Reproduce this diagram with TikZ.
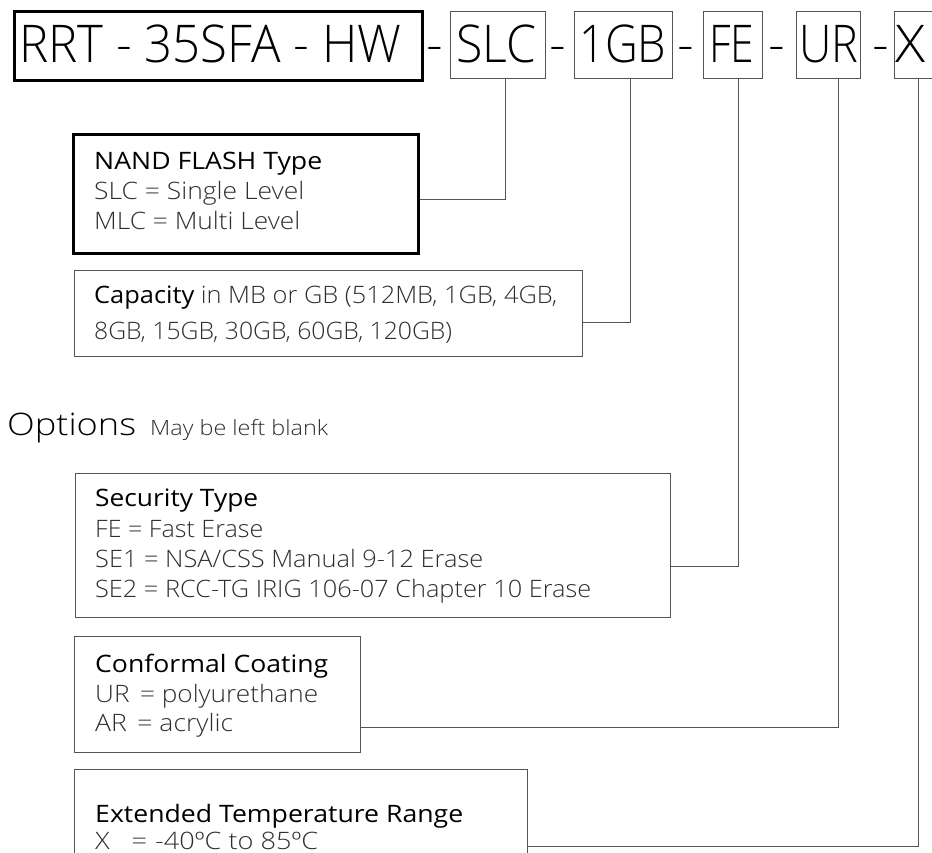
\documentclass[tikz,border=0pt]{standalone}
\usepackage{graphicx}
\usepackage{fontspec}
\IfFontExistsTF{Open Sans Light}{\setmainfont{Open Sans Light}}{\setmainfont{Open Sans}}
\newfontfamily\titlefont{Open Sans}
\definecolor{linegray}{HTML}{555555}
\definecolor{bodygray}{HTML}{2E2E2E}
\newcommand{\fitw}[2]{\resizebox{#1pt}{\height}{#2}}
\tikzset{
  boxthin/.style={draw=linegray, line width=1pt, inner sep=0pt, anchor=north west},
  boxthick/.style={draw=black, line width=2.5pt, inner sep=0pt, anchor=north west},
  conn/.style={draw=linegray, line width=1pt},
  bigtxt/.style={anchor=base west, inner sep=0pt, font=\fontsize{52}{60}\selectfont},
  ttl/.style={anchor=base west, inner sep=0pt, text=black, font=\titlefont\fontsize{24}{28}\selectfont},
  body/.style={anchor=base west, inner sep=0pt, text=bodygray, font=\fontsize{24}{28}\selectfont},
}
\begin{document}
\begin{tikzpicture}[x=1pt,y=-1pt]
\useasboundingbox (0,0) rectangle (932,852);
\clip (0,0) rectangle (932,852);
% top row boxes
\node[boxthick, minimum width=408pt, minimum height=69pt] (rrt) at (13,10) {};
\node[boxthin, minimum width=95pt, minimum height=67pt] (slc) at (450,11) {};
\node[boxthin, minimum width=98pt, minimum height=67pt] (gb) at (574,11) {};
\node[boxthin, minimum width=59pt, minimum height=67pt] (fe) at (703,11) {};
\node[boxthin, minimum width=64pt, minimum height=67pt] (ur) at (796,11) {};
\node[boxthin, minimum width=50pt, minimum height=67pt] (xb) at (894,11) {};
\node[bigtxt] (rrtt) at (19,62) {\fitw{382}{RRT - 35SFA - HW}};
\node[bigtxt] (slct) at (456,62) {\fitw{80}{SLC}};
\node[bigtxt] (gbt) at (579,62) {\fitw{87}{1GB}};
\node[bigtxt] (fet) at (709,62) {\fitw{45}{FE}};
\node[bigtxt] (urt) at (799,62) {\fitw{59}{UR}};
\node[bigtxt] (xt) at (895,62) {\fitw{30}{X}};
\node[bigtxt, anchor=base] (d1) at (435,62) {-};
\node[bigtxt, anchor=base] (d2) at (557.5,62) {-};
\node[bigtxt, anchor=base] (d3) at (685.5,62) {-};
\node[bigtxt, anchor=base] (d4) at (777,62) {-};
\node[bigtxt, anchor=base] (d5) at (880.5,62) {-};
% NAND box
\node[boxthick, minimum width=345pt, minimum height=119pt] (nand) at (72,133) {};
\node[ttl] (nand1) at (94,169) {\fitw{228}{NAND FLASH Type}};
\node[body] (nand2) at (94,199) {\fitw{210}{SLC = Single Level}};
\node[body] (nand3) at (94,229) {\fitw{206}{MLC = Multi Level}};
% Capacity box
\node[boxthin, minimum width=508pt, minimum height=86pt] (cap) at (74,270) {};
\node[body] (cap1) at (94,303) {\fitw{463}{{\titlefont\color{black}Capacity} in MB or GB (512MB, 1GB, 4GB,}};
\node[body] (cap2) at (94,339) {\fitw{358}{8GB, 15GB, 30GB, 60GB, 120GB)}};
% Options
\node[anchor=base west, inner sep=0pt, font=\fontsize{31}{36}\selectfont] (opt) at (7,435) {\fitw{129}{Options}};
\node[anchor=base west, inner sep=0pt, text=bodygray, font=\fontsize{21}{25}\selectfont] (optb) at (150,435) {\fitw{178}{May be left blank}};
% Security box
\node[boxthin, minimum width=595pt, minimum height=144pt] (sec) at (75,473) {};
\node[ttl] (sec1) at (95,506) {\fitw{163}{Security Type}};
\node[body] (sec2) at (95,537) {\fitw{168}{FE = Fast Erase}};
\node[body] (sec3) at (95,567) {\fitw{388}{SE1 = NSA/CSS Manual 9-12 Erase}};
\node[body] (sec4) at (95,597) {\fitw{496}{SE2 = RCC-TG IRIG 106-07 Chapter 10 Erase}};
% Conformal box
\node[boxthin, minimum width=286pt, minimum height=116pt] (conf) at (74,636) {};
\node[ttl] (conf1) at (95,672) {\fitw{233}{Conformal Coating}};
\node[body] (conf2) at (95,702) {\fitw{223}{UR\hspace{0.4em}= polyurethane}};
\node[body] (conf3) at (95,731) {\fitw{138}{AR\hspace{0.4em}= acrylic}};
% Extended box (cut off at bottom)
\node[boxthin, minimum width=453pt, minimum height=120pt] (ext) at (74,769) {};
\node[ttl] (ext1) at (95,822) {\fitw{368}{Extended Temperature Range}};
\node[body, text depth=0pt] (ext2) at (95,849) {\fitw{223}{X\hspace{0.8em}=\hspace{0.3em}-40ºC to 85ºC}};
% connectors
\draw[conn] (505,0 |- slc.south) |- (nand.east |- 0,199);
\draw[conn] (630.5,0 |- gb.south) |- (cap.east |- 0,322);
\draw[conn] (738,0 |- fe.south) |- (sec.east |- 0,566);
\draw[conn] (838.5,0 |- ur.south) |- (conf.east |- 0,727);
\draw[conn] (918.5,0 |- xb.south) |- (ext.east |- 0,846);
\end{tikzpicture}
\end{document}
